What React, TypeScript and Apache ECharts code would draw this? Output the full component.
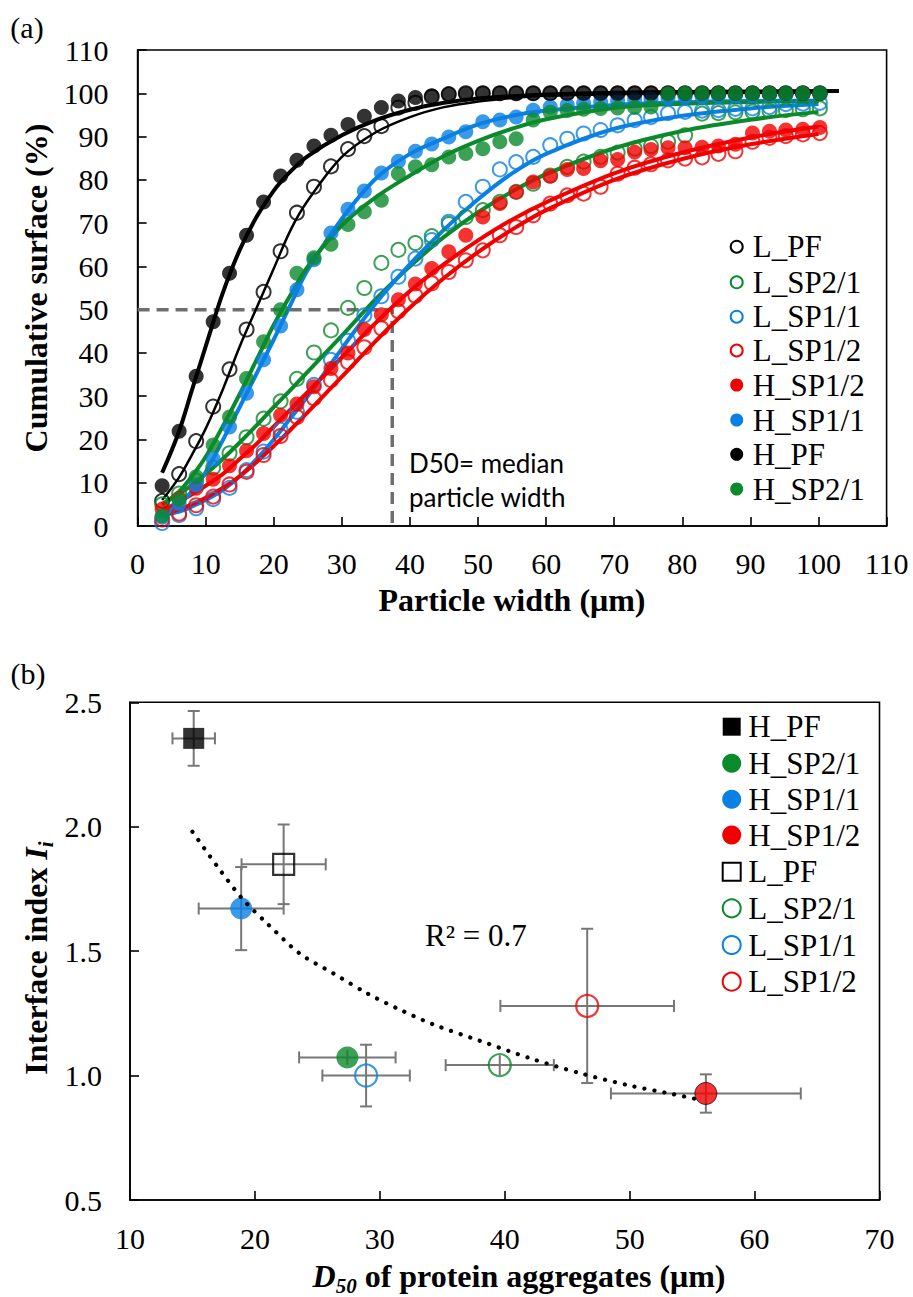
import React, { useEffect, useRef } from 'react';
import * as echarts from 'echarts';

// ---------- Panel (a) data ----------
const WIDTHS = [3.6, 6.1, 8.6, 11.1, 13.5, 16.0, 18.5, 21.0, 23.4, 25.9, 28.4, 30.9, 33.3, 35.8, 38.3, 40.8, 43.2, 45.7, 48.2, 50.7, 53.2, 55.6, 58.1, 60.6, 63.1, 65.5, 68.0, 70.5, 73.0, 75.4, 77.9, 80.4, 82.9, 85.3, 87.8, 90.3, 92.8, 95.2, 97.7, 100.2];

const L_PF = [5.8, 12.0, 19.6, 27.6, 36.2, 45.4, 54.1, 63.5, 72.4, 78.4, 83.1, 87.1, 90.1, 92.4, 96.7, 97.8, 99.2, 99.8, 100, 100, 100, 100, 100, 100, 100, 100, 100, 100, 100, 100, 100, 100, 100, 100, 100, 100, 100, 100, 100, 100];
const L_SP2_1 = [5.0, 7.5, 10.5, 13.5, 16.8, 20.5, 24.8, 28.8, 34.0, 40.1, 45.2, 50.4, 55.0, 60.8, 63.8, 65.4, 67.0, 69.8, 71.4, 73.0, 74.9, 77.2, 79.1, 81.0, 83.0, 84.2, 85.3, 86.3, 87.2, 87.8, 88.8, 90.3, 95.3, 95.4, 95.6, 95.8, 95.9, 96.1, 96.3, 96.5];
const L_SP1_1 = [0.7, 2.5, 4.1, 6.2, 8.8, 12.9, 17.2, 22.2, 26.4, 32.6, 38.4, 42.8, 48.7, 53.1, 57.6, 61.8, 66.1, 70.3, 74.9, 78.4, 82.4, 84.1, 85.3, 88.0, 89.5, 90.7, 91.5, 92.6, 93.8, 94.5, 95.4, 95.7, 96.0, 96.1, 96.4, 96.5, 96.8, 97.5, 97.6, 97.8];
const L_SP1_2 = [1.5, 2.9, 4.8, 6.8, 9.6, 12.5, 16.4, 20.8, 25.2, 29.5, 33.7, 37.9, 41.3, 45.7, 49.6, 53.2, 56.1, 58.7, 61.4, 63.7, 67.2, 69.1, 71.8, 74.5, 76.4, 76.8, 78.4, 81.4, 82.8, 83.6, 84.5, 84.9, 85.2, 86.0, 86.6, 88.8, 89.7, 90.1, 90.5, 90.8];
const H_SP1_2 = [3.9, 6.4, 8.7, 10.8, 13.9, 17.4, 21.4, 25.6, 28.2, 32.2, 36.4, 40.0, 45.4, 48.8, 52.3, 55.9, 59.5, 63.4, 67.2, 71.4, 74.5, 77.2, 79.5, 80.8, 82.4, 82.6, 84.4, 84.7, 86.4, 87.0, 87.4, 87.4, 87.5, 87.8, 88.2, 90.8, 91.2, 91.5, 91.7, 92.1];
const H_SP1_1 = [2.0, 5.2, 9.5, 15.5, 22.9, 30.7, 38.4, 46.2, 54.6, 61.5, 67.7, 73.2, 77.4, 81.6, 84.3, 86.6, 88.3, 89.9, 91.1, 93.4, 93.8, 94.5, 96.1, 96.8, 97.3, 97.7, 98.0, 98.3, 98.5, 98.7, 98.9, 99.1, 99.2, 99.4, 99.5, 99.6, 99.7, 99.8, 99.9, 100];
const H_PF = [9.3, 21.9, 34.6, 47.2, 58.4, 67.2, 74.9, 80.9, 84.5, 87.8, 90.3, 92.8, 94.7, 96.7, 98.2, 99.0, 99.4, 99.8, 99.9, 100, 100, 100, 100, 100, 100, 100, 100, 100, 100, 100, 100, 100, 100, 100, 100, 100, 100, 100, 100, 100];
const H_SP2_1 = [2.3, 6.2, 11.4, 18.7, 25.2, 34.1, 42.6, 50.0, 58.4, 62.0, 65.1, 69.7, 72.6, 75.3, 81.4, 83.0, 83.5, 85.3, 86.1, 87.2, 88.8, 89.5, 93.8, 95.6, 96.0, 96.3, 96.5, 96.6, 96.7, 96.8, 99.9, 100, 100, 100, 100, 100, 100, 100, 100, 100];

// fitted curves
const FIT_X = [3.6, 6, 8, 10, 12.5, 15, 17.5, 20, 22.5, 25, 30, 35, 40, 45, 50, 55, 60, 70, 80, 90, 100];
const FIT_X_HPF = [3.6, 6, 8, 10, 12.5, 15, 17.5, 20, 22.5, 25, 30, 35, 40, 45, 50, 60, 70, 80, 90, 103];
const FIT_H_PF = [12.3, 21.5, 31.5, 41.5, 53.8, 63.8, 71.5, 77.5, 82.0, 85.5, 90.3, 93.8, 96.2, 97.8, 98.8, 99.7, 100.1, 100.3, 100.4, 100.5];
const FIT_L_PF = [6.0, 11.0, 16.5, 22.5, 31.5, 41.5, 50.5, 59.5, 68.5, 75.2, 85.3, 91.0, 94.5, 96.8, 98.1, 98.9, 99.4, 99.8, 100.0, 100.1, 100.2];
const FIT_H_SP1_1 = [2.0, 5.0, 8.0, 12.5, 19.8, 27.5, 35.3, 43.1, 51.3, 59.2, 71.0, 80.3, 86.0, 89.6, 92.8, 94.8, 96.0, 97.3, 97.9, 98.2, 98.3];
const FIT_H_SP2_1 = [5.0, 7.8, 11.5, 16.0, 23.0, 30.5, 38.5, 46.5, 53.5, 60.0, 69.5, 76.0, 81.0, 85.5, 89.0, 91.8, 94.0, 96.6, 97.6, 98.0, 98.2];
const FIT_L_SP2_1 = [5.0, 7.3, 9.5, 12.0, 15.5, 19.3, 23.3, 27.5, 31.5, 35.7, 44.0, 52.5, 60.0, 66.8, 72.5, 77.3, 81.3, 87.3, 91.3, 93.9, 95.7];
const FIT_L_SP1_1 = [2.5, 3.3, 4.5, 6.0, 8.3, 11.5, 15.5, 20.0, 25.0, 30.0, 41.0, 51.5, 60.5, 68.5, 75.5, 81.5, 86.0, 91.8, 94.8, 96.5, 97.5];
const FIT_H_SP1_2 = [3.5, 5.5, 7.3, 9.3, 12.0, 15.5, 19.0, 23.0, 27.0, 31.0, 39.0, 47.0, 54.3, 60.5, 66.0, 70.8, 74.8, 81.5, 86.3, 89.8, 92.3];
const FIT_L_SP1_2 = [2.5, 3.8, 5.0, 6.5, 8.8, 11.5, 14.8, 18.5, 22.3, 26.3, 34.5, 42.8, 50.5, 57.3, 63.3, 68.5, 73.0, 80.0, 84.8, 88.2, 90.6];

const D50_EXAMPLE = 37.4;
const D50_LEVEL = 50;

const A_X_TICKS = { min: 0, max: 110, interval: 10 };
const A_Y_TICKS = { min: 0, max: 110, interval: 10 };

// ---------- Panel (b) data ----------
const B_NAMES = ['H_PF', 'H_SP2/1', 'H_SP1/1', 'H_SP1/2', 'L_PF', 'L_SP2/1', 'L_SP1/1', 'L_SP1/2'];
const B_D50 = [15.1, 27.4, 18.9, 56.1, 22.3, 39.6, 28.9, 46.6];
const B_INDEX = [2.355, 1.073, 1.671, 0.928, 1.849, 1.042, 1.0, 1.28];
const B_D50_ERR = [1.7, 3.86, 3.4, 7.6, 3.37, 4.33, 3.5, 6.95];
const B_INDEX_ERR = [0.11, 0.03, 0.167, 0.077, 0.16, 0.04, 0.124, 0.31];
const TREND_X = [15, 17, 19, 21, 23.6, 26.3, 29, 31.6, 34.3, 38, 42, 46, 50, 53, 55.9];
const TREND_Y = [1.98, 1.84, 1.71, 1.61, 1.49, 1.41, 1.33, 1.265, 1.205, 1.14, 1.07, 1.01, 0.96, 0.93, 0.9];
const R2_TEXT = 'R² = 0.7';

const B_X_TICKS = { min: 10, max: 70, interval: 10 };
const B_Y_TICKS = { min: 0.5, max: 2.5, interval: 0.5 };

// ---------- styles ----------
const SERIF = 'Liberation Serif';
const SANS = 'Lato';
const BLACK = '#000000';
const GREEN = '#0b8a2c';
const BLUE = '#0a80e4';
const RED = '#f20000';
const GRAY = '#777777';

const A_SERIES = [
  { name: 'L_PF', values: L_PF, color: BLACK, open: true, fx: FIT_X, fy: FIT_L_PF, lw: 2.5 },
  { name: 'L_SP2/1', values: L_SP2_1, color: GREEN, open: true, fx: FIT_X, fy: FIT_L_SP2_1, lw: 4 },
  { name: 'L_SP1/1', values: L_SP1_1, color: BLUE, open: true, fx: FIT_X, fy: FIT_L_SP1_1, lw: 4 },
  { name: 'L_SP1/2', values: L_SP1_2, color: RED, open: true, fx: FIT_X, fy: FIT_L_SP1_2, lw: 4 },
  { name: 'H_SP1/2', values: H_SP1_2, color: RED, open: false, fx: FIT_X, fy: FIT_H_SP1_2, lw: 4 },
  { name: 'H_SP1/1', values: H_SP1_1, color: BLUE, open: false, fx: FIT_X, fy: FIT_H_SP1_1, lw: 4 },
  { name: 'H_PF', values: H_PF, color: BLACK, open: false, fx: FIT_X_HPF, fy: FIT_H_PF, lw: 4 },
  { name: 'H_SP2/1', values: H_SP2_1, color: GREEN, open: false, fx: FIT_X, fy: FIT_H_SP2_1, lw: 4 },
];

const B_STYLE = [
  { color: BLACK, open: false, square: true, border: false },
  { color: GREEN, open: false, square: false, border: false },
  { color: BLUE, open: false, square: false, border: false },
  { color: RED, open: false, square: false, border: true },
  { color: BLACK, open: true, square: true, border: false },
  { color: GREEN, open: true, square: false, border: false },
  { color: BLUE, open: true, square: false, border: false },
  { color: RED, open: true, square: false, border: false },
];

function axisCommon(fontSize: number, margin: number, fmt?: (v: number) => string) {
  return {
    type: 'value',
    axisLine: { show: true, onZero: false, lineStyle: { color: BLACK, width: 1.6 } },
    axisTick: { show: true, inside: true, length: 9, lineStyle: { color: BLACK, width: 1.6 } },
    axisLabel: {
      show: true, color: BLACK, fontFamily: SERIF, fontSize, margin,
      showMinLabel: true, showMaxLabel: true,
      formatter: fmt,
    },
    splitLine: { show: false },
  };
}

function buildOption() {
  const series: any[] = [];

  // D50 guide (dashed)
  series.push({
    type: 'line', xAxisIndex: 0, yAxisIndex: 0, silent: true, showSymbol: false,
    data: [[0, D50_LEVEL], [D50_EXAMPLE, D50_LEVEL], [D50_EXAMPLE, 0]],
    lineStyle: { color: '#6e6e6e', width: 3.5, type: [12, 7] },
    z: 1,
  });

  // fitted curves
  A_SERIES.forEach((s) => {
    series.push({
      type: 'line', xAxisIndex: 0, yAxisIndex: 0, silent: true, showSymbol: false,
      smooth: 0.35,
      data: s.fx.map((x, i) => [x, s.fy[i]]),
      lineStyle: { color: s.color, width: s.lw },
      z: 2,
    });
  });

  // measured points
  A_SERIES.forEach((s) => {
    series.push({
      type: 'scatter', name: s.name, xAxisIndex: 0, yAxisIndex: 0, silent: true,
      symbol: 'circle', symbolSize: s.open ? 14 : 15,
      data: WIDTHS.map((x, i) => [x, s.values[i]]),
      itemStyle: s.open
        ? { color: 'rgba(255,255,255,0)', borderColor: s.color, borderWidth: 2 }
        : { color: s.color },
      z: 3,
    });
  });

  // panel b: error bars
  series.push({
    type: 'custom', xAxisIndex: 1, yAxisIndex: 1, silent: true,
    data: B_D50.map((x, i) => [x, B_INDEX[i], B_D50_ERR[i], B_INDEX_ERR[i]]),
    encode: { x: 0, y: 1 },
    renderItem: (_params: any, api: any) => {
      const x = api.value(0), y = api.value(1), ex = api.value(2), ey = api.value(3);
      const l = api.coord([x - ex, y]);
      const r = api.coord([x + ex, y]);
      const t = api.coord([x, y + ey]);
      const b = api.coord([x, y - ey]);
      const cap = 6;
      const style = { stroke: GRAY, lineWidth: 2, fill: 'none' };
      const children: any[] = [
        { type: 'line', shape: { x1: l[0], y1: l[1], x2: r[0], y2: r[1] }, style },
        { type: 'line', shape: { x1: l[0], y1: l[1] - cap, x2: l[0], y2: l[1] + cap }, style },
        { type: 'line', shape: { x1: r[0], y1: r[1] - cap, x2: r[0], y2: r[1] + cap }, style },
        { type: 'line', shape: { x1: t[0], y1: t[1], x2: b[0], y2: b[1] }, style },
      ];
      if (Math.abs(b[1] - t[1]) / 2 > 12) {
        children.push({ type: 'line', shape: { x1: t[0] - cap, y1: t[1], x2: t[0] + cap, y2: t[1] }, style });
        children.push({ type: 'line', shape: { x1: b[0] - cap, y1: b[1], x2: b[0] + cap, y2: b[1] }, style });
      }
      return { type: 'group', children };
    },
    z: 2,
  });

  // panel b: markers
  B_NAMES.forEach((name, i) => {
    const st = B_STYLE[i];
    series.push({
      type: 'scatter', name: name + ' ', xAxisIndex: 1, yAxisIndex: 1, silent: true,
      symbol: st.square ? 'rect' : 'circle', symbolSize: st.square ? 21 : 22,
      data: [[B_D50[i], B_INDEX[i]]],
      itemStyle: st.open
        ? { color: 'rgba(255,255,255,0)', borderColor: st.color, borderWidth: 2.2 }
        : st.border
          ? { color: st.color, borderColor: '#3a0000', borderWidth: 1 }
          : { color: st.color },
      z: 3,
    });
  });

  // panel b: trend line (dotted)
  series.push({
    type: 'line', xAxisIndex: 1, yAxisIndex: 1, silent: true, showSymbol: false,
    smooth: 0.3,
    data: TREND_X.map((x, i) => [x, TREND_Y[i]]),
    lineStyle: { color: BLACK, width: 4.2, type: [0.1, 10], cap: 'round' },
    z: 4,
  });

  const txt = (x: number, y: number, text: string, fontSize: number, opts: any = {}) => ({
    type: 'text', x, y, rotation: opts.rotation || 0,
    style: {
      text, fill: BLACK,
      fontFamily: opts.family || SERIF, fontSize, fontWeight: opts.bold ? 'bold' : 'normal',
      align: opts.align || 'center', verticalAlign: 'middle',
      textAlign: opts.align || 'center', textVerticalAlign: 'middle',
    },
  });

  // legends (drawn)
  const graphic: any[] = [];
  const A_LEG_Y = [246.7, 282.3, 316.7, 350.5, 385, 420, 454.3, 489];
  A_SERIES.forEach((s, i) => {
    graphic.push({
      type: 'circle', x: 736.7, y: A_LEG_Y[i], shape: { cx: 0, cy: 0, r: s.open ? 6 : 6.5 },
      style: s.open ? { fill: 'none', stroke: s.color, lineWidth: 2 } : { fill: s.color },
    });
    graphic.push(txt(752.7, A_LEG_Y[i], s.name, 31, { align: 'left' }));
  });
  const B_LEG_Y = [726.7, 763.3, 799.3, 835, 871.7, 908.3, 945, 981.7];
  B_NAMES.forEach((name, i) => {
    const st = B_STYLE[i];
    const sty = st.open ? { fill: 'none', stroke: st.color, lineWidth: 2 } : { fill: st.color };
    if (st.square) {
      graphic.push({ type: 'rect', x: 731.7, y: B_LEG_Y[i], shape: { x: -9, y: -9, width: 18, height: 18 }, style: sty });
    } else {
      graphic.push({ type: 'circle', x: 731.7, y: B_LEG_Y[i], shape: { cx: 0, cy: 0, r: st.open ? 9 : 9.5 }, style: sty });
    }
    graphic.push(txt(748.3, B_LEG_Y[i], name, 31, { align: 'left' }));
  });

  graphic.push(txt(27, 27, '(a)', 30));
  graphic.push(txt(28, 673, '(b)', 30));
  graphic.push(txt(36, 288, 'Cumulative surface (%)', 32, { bold: true, rotation: Math.PI / 2 }));
  graphic.push(txt(512, 600, 'Particle width (μm)', 32, { bold: true }));
  graphic.push(txt(409, 463, 'D50= median', 26, { family: SANS, align: 'left' }));
  graphic.push(txt(409, 497, 'particle width', 26, { family: SANS, align: 'left' }));
  graphic.push(txt(425, 935, R2_TEXT, 31, { align: 'left' }));

  const richBase = { fontFamily: SERIF, fontSize: 32, fontWeight: 'bold', lineHeight: 40, verticalAlign: 'middle' };
  const richSub = { fontFamily: SERIF, fontSize: 21, fontWeight: 'bold', fontStyle: 'italic', verticalAlign: 'bottom' };
  graphic.push({
    type: 'text', x: 519, y: 1276,
    style: {
      text: '{i|D}{s|50}{n| of protein aggregates (μm)}',
      fill: BLACK, align: 'center', verticalAlign: 'middle', textAlign: 'center', textVerticalAlign: 'middle',
      fontFamily: SERIF, fontSize: 32, fontWeight: 'bold',
      rich: {
        i: { ...richBase, fontStyle: 'italic' },
        s: richSub,
        n: { ...richBase },
      },
    },
  });
  graphic.push({
    type: 'text', x: 36, y: 958, rotation: Math.PI / 2,
    style: {
      text: '{n|Interface index }{i|I}{s|i}',
      fill: BLACK, align: 'center', verticalAlign: 'middle', textAlign: 'center', textVerticalAlign: 'middle',
      fontFamily: SERIF, fontSize: 32, fontWeight: 'bold',
      rich: {
        i: { ...richBase, fontStyle: 'italic' },
        s: richSub,
        n: { ...richBase },
      },
    },
  });

  return {
    animation: false,
    backgroundColor: '#ffffff',
    textStyle: { fontFamily: SERIF },
    grid: [
      { left: 137.6, top: 50, width: 749, height: 476, show: true, borderColor: BLACK, borderWidth: 1.6, backgroundColor: 'rgba(0,0,0,0)' },
      { left: 130, top: 702.3, width: 749.5, height: 497.7, show: true, borderColor: BLACK, borderWidth: 1.6, backgroundColor: 'rgba(0,0,0,0)' },
    ],
    xAxis: [
      { ...axisCommon(30, 22), gridIndex: 0, ...A_X_TICKS },
      { ...axisCommon(30, 23), gridIndex: 1, ...B_X_TICKS },
    ],
    yAxis: [
      { ...axisCommon(30, 29), gridIndex: 0, ...A_Y_TICKS },
      { ...axisCommon(30, 28, (v: number) => v.toFixed(1)), gridIndex: 1, ...B_Y_TICKS },
    ],
    series,
    graphic,
  };
}

export default function App() {
  const ref = useRef<HTMLDivElement>(null);
  useEffect(() => {
    if (!ref.current) return;
    const chart = echarts.init(ref.current, undefined, { renderer: 'svg' });
    chart.setOption(buildOption() as any);
    return () => chart.dispose();
  }, []);
  return (
    <div
      ref={ref}
      style={{ position: 'absolute', left: 0, top: 0, width: 913, height: 1297, background: '#ffffff' }}
    />
  );
}
